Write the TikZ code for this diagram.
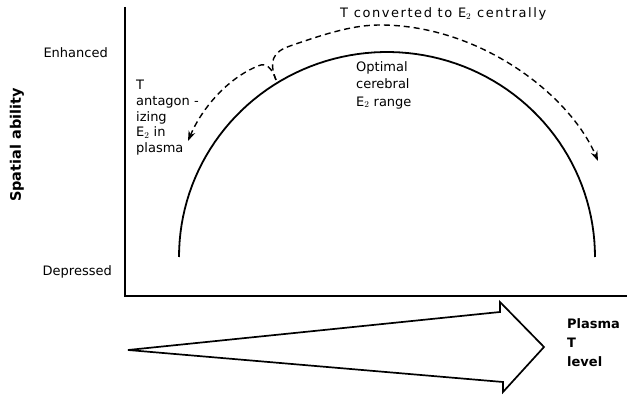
\documentclass[tikz,border=0pt]{standalone}
\usepackage{fontspec}
\setmainfont{DejaVu Sans}
\usetikzlibrary{arrows.meta}
\begin{document}
\begin{tikzpicture}[x=1pt,y=-1pt,
  axisline/.style={line width=2pt},
  curveline/.style={line width=1.8pt},
  dashline/.style={line width=1.4pt,dash pattern=on 6pt off 4pt,-{Stealth[length=10pt,width=7pt]}},
  lbl/.style={font=\fontsize{13}{16}\selectfont,inner sep=0pt},
  blbl/.style={font=\fontsize{13}{19}\selectfont\bfseries,inner sep=0pt}]
\useasboundingbox (0,0) rectangle (627,395);
% axes
\coordinate (ytop) at (125,7);
\coordinate (orig) at (125,296);
\coordinate (xend) at (627,296);
\draw[axisline] (ytop) -- (orig) -- (xend);
% solid arc
\draw[curveline] plot[domain=180:360,samples=80] ({387+208*cos(\x)},{257+205*sin(\x)});
% dashed arrows
\coordinate (P) at (276,80);
\coordinate (leftend) at (188,141);
\coordinate (rightend) at (598,161);
\draw[dashline] (P) .. controls (272,68) and (266,62) .. (258,66)
  .. controls (228,78) and (202,108) .. (leftend);
\draw[dashline] (P) .. controls (269,62) and (272,52) .. (290,46)
  .. controls (330,32) and (355,25) .. (380,25)
  .. controls (480,25) and (570,95) .. (rightend);
% big arrow
\draw[line width=1.7pt,line join=miter] (128,350) -- (500,312) -- (500,302) -- (544,347) -- (503,392) -- (503,382) -- cycle;
% labels
\node[blbl,rotate=90,font=\fontsize{14.5}{17}\selectfont\bfseries] (ylab) at (17,145) {Spatial ability};
\node[lbl,anchor=east] (enh) at (108,53) {Enhanced};
\node[lbl,anchor=east] (dep) at (112,272) {Depressed};
\node[lbl,anchor=west,font=\fontsize{13}{16}\selectfont\addfontfeature{LetterSpace=12}] (conv) at (340,14) {T converted to E$_2$ centrally};
\node[lbl,anchor=north west,align=left,font=\fontsize{13}{15.7}\selectfont] (ant) at (136,80) {T\\antagon -\\izing\\E$_2$ in\\plasma};
\node[lbl,anchor=north west,align=left,font=\fontsize{13}{17.5}\selectfont] (opt) at (356,61) {Optimal\\cerebral\\E$_2$ range};
\node[blbl,anchor=north west,align=left] (pl) at (567,318) {Plasma\\T\\level};
\end{tikzpicture}
\end{document}
